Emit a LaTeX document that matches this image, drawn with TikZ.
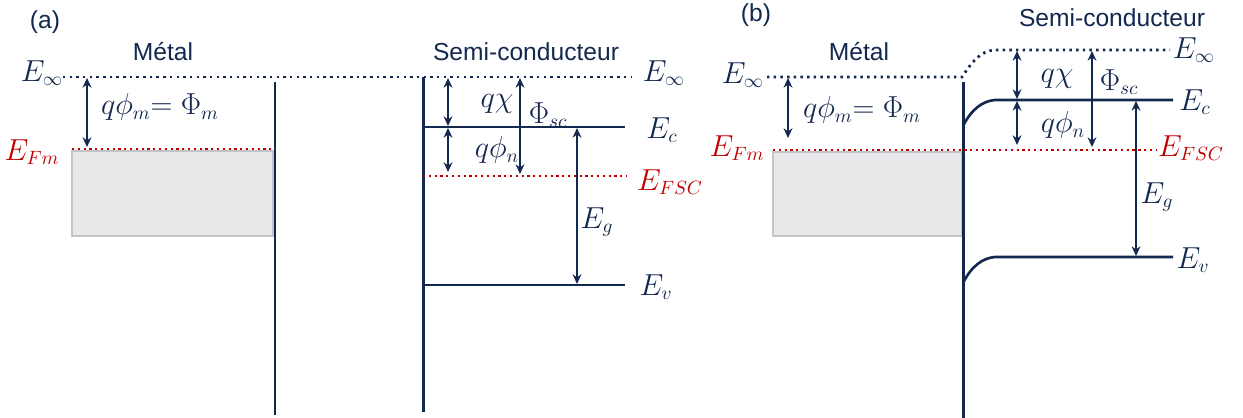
\documentclass[tikz,border=0pt]{standalone}
\usepackage{fontspec}
\setmainfont{Liberation Sans}
\usetikzlibrary{arrows.meta}
\definecolor{navy}{HTML}{13284F}
\definecolor{fred}{HTML}{C00000}
\definecolor{boxgray}{HTML}{E8E8EA}
\definecolor{boxedge}{HTML}{C4C4C8}
\begin{document}
\begin{tikzpicture}[x=0.02cm,y=-0.02cm,
  band/.style={navy, line width=1.5pt},
  wall/.style={navy, line width=1.7pt},
  vac/.style={navy, line width=1.6pt, dash pattern=on 1.4pt off 2.4pt},
  fermi/.style={fred, line width=1.5pt, dash pattern=on 1.3pt off 2.0pt},
  dim/.style={navy, line width=1.3pt, {Stealth[length=5.5pt,width=5pt]}-{Stealth[length=5.5pt,width=5pt]}},
  lab/.style={navy, font=\fontsize{16}{18}\selectfont, inner sep=0pt},
  rlab/.style={fred, font=\fontsize{16}{18}\selectfont, inner sep=0pt},
  ttl/.style={navy, font=\fontsize{14}{16}\selectfont, inner sep=0pt}]
\useasboundingbox (0,0) rectangle (1243,418);

% ---------------- (a) ----------------
\node[ttl] (ta) at (45,22) {(a)};
\node[ttl] (metA) at (163,52) {Métal};
\node[ttl] (scA) at (526,52) {Semi-conducteur};

\coordinate (aVacL) at (63,77);
\coordinate (aVacR) at (632,77);
\fill[boxgray, draw=boxedge, line width=0.6pt] (72,151) rectangle (273,236);
\draw[vac] (aVacL) -- (aVacR);
\coordinate (aMtop) at (275,82);
\coordinate (aMbot) at (275,415);
\draw[wall] (aMtop) -- (aMbot);
\coordinate (aFmL) at (72,149);
\coordinate (aFmR) at (275,149);
\draw[fermi] (aFmL) -- (aFmR);

\coordinate (aStop) at (423,77);
\coordinate (aSbot) at (423,412);
\draw[wall] (aStop) -- (aSbot);
\coordinate (aEcL) at (423,127);
\coordinate (aEcR) at (625,127);
\draw[band] (aEcL) -- (aEcR);
\coordinate (aEvL) at (423,285);
\coordinate (aEvR) at (625,285);
\draw[band] (aEvL) -- (aEvR);
\coordinate (aFsL) at (423,176);
\coordinate (aFsR) at (627,176);
\draw[fermi] (aFsL) -- (aFsR);

\coordinate (aPm1) at (87,78);
\coordinate (aPm2) at (87,147);
\draw[dim] (aPm1) -- (aPm2);
\coordinate (aX1) at (448,78);
\coordinate (aX2) at (448,126);
\draw[dim] (aX1) -- (aX2);
\coordinate (aN1) at (448,128);
\coordinate (aN2) at (448,172);
\draw[dim] (aN1) -- (aN2);
\coordinate (aS1) at (520,78);
\coordinate (aS2) at (520,174);
\draw[dim] (aS1) -- (aS2);
\coordinate (aG1) at (577,128);
\coordinate (aG2) at (577,284);
\draw[dim] (aG1) -- (aG2);

\node[lab] (aLinf) at (42,73) {$E_\infty$};
\node[rlab] (aLfm) at (32,152) {$E_{Fm}$};
\node[lab] (aLpm) at (160,107) {$q\phi_m{=}\;\Phi_m$};
\node[lab] (aLx) at (497,104) {$q\chi$};
\node[lab] (aLn) at (497,150) {$q\phi_n$};
\node[lab] (aLs) at (548,115) {$\Phi_{sc}$};
\node[lab] (aLg) at (597,222) {$E_g$};
\node[lab] (aLinfR) at (664,73) {$E_\infty$};
\node[lab] (aLc) at (662,130) {$E_c$};
\node[rlab] (aLfs) at (670,182) {$E_{FSC}$};
\node[lab] (aLv) at (656,287) {$E_v$};

% ---------------- (b) ----------------
\node[ttl] (tb) at (756,15) {(b)};
\node[ttl] (metB) at (859,52) {Métal};
\node[ttl] (scB) at (1112,18) {Semi-conducteur};

\fill[boxgray, draw=boxedge, line width=0.6pt] (773,152) rectangle (962,236);
\coordinate (bVacL) at (767,77);
\coordinate (bVacM) at (962,77);
\coordinate (bVacN) at (995,50);
\coordinate (bVacR) at (1170,50);
\draw[vac] (bVacL) -- (bVacM) .. controls (972,62) and (980,51) .. (bVacN) -- (bVacR);
\coordinate (bMtop) at (963,82);
\coordinate (bMbot) at (963,418);
\draw[wall] (bMtop) -- (bMbot);
\coordinate (bFmL) at (773,150);
\coordinate (bFmR) at (1157,150);
\draw[fermi] (bFmL) -- (bFmR);

\coordinate (bEc0) at (963,126);
\coordinate (bEc1) at (995,100);
\coordinate (bEcR) at (1173,100);
\draw[band] (bEc0) .. controls (971,110) and (982,101) .. (bEc1) -- (bEcR);
\coordinate (bEv0) at (963,283);
\coordinate (bEv1) at (995,257);
\coordinate (bEvR) at (1173,257);
\draw[band] (bEv0) .. controls (971,267) and (982,258) .. (bEv1) -- (bEvR);

\coordinate (bPm1) at (788,78);
\coordinate (bPm2) at (788,138);
\draw[dim] (bPm1) -- (bPm2);
\coordinate (bX1) at (1017,51);
\coordinate (bX2) at (1017,99);
\draw[dim] (bX1) -- (bX2);
\coordinate (bN1) at (1017,101);
\coordinate (bN2) at (1017,145);
\draw[dim] (bN1) -- (bN2);
\coordinate (bS1) at (1092,51);
\coordinate (bS2) at (1092,147);
\draw[dim] (bS1) -- (bS2);
\coordinate (bG1) at (1136,101);
\coordinate (bG2) at (1136,256);
\draw[dim] (bG1) -- (bG2);

\node[lab] (bLinf) at (743,75) {$E_\infty$};
\node[rlab] (bLfm) at (737,148) {$E_{Fm}$};
\node[lab] (bLpm) at (862,110) {$q\phi_m{=}\;\Phi_m$};
\node[lab] (bLx) at (1057,79) {$q\chi$};
\node[lab] (bLn) at (1063,125) {$q\phi_n$};
\node[lab] (bLs) at (1119,82) {$\Phi_{sc}$};
\node[lab] (bLg) at (1157,197) {$E_g$};
\node[lab] (bLinfR) at (1194,50) {$E_\infty$};
\node[lab] (bLc) at (1195,102) {$E_c$};
\node[rlab] (bLfs) at (1191,148) {$E_{FSC}$};
\node[lab] (bLv) at (1193,260) {$E_v$};
\end{tikzpicture}
\end{document}
